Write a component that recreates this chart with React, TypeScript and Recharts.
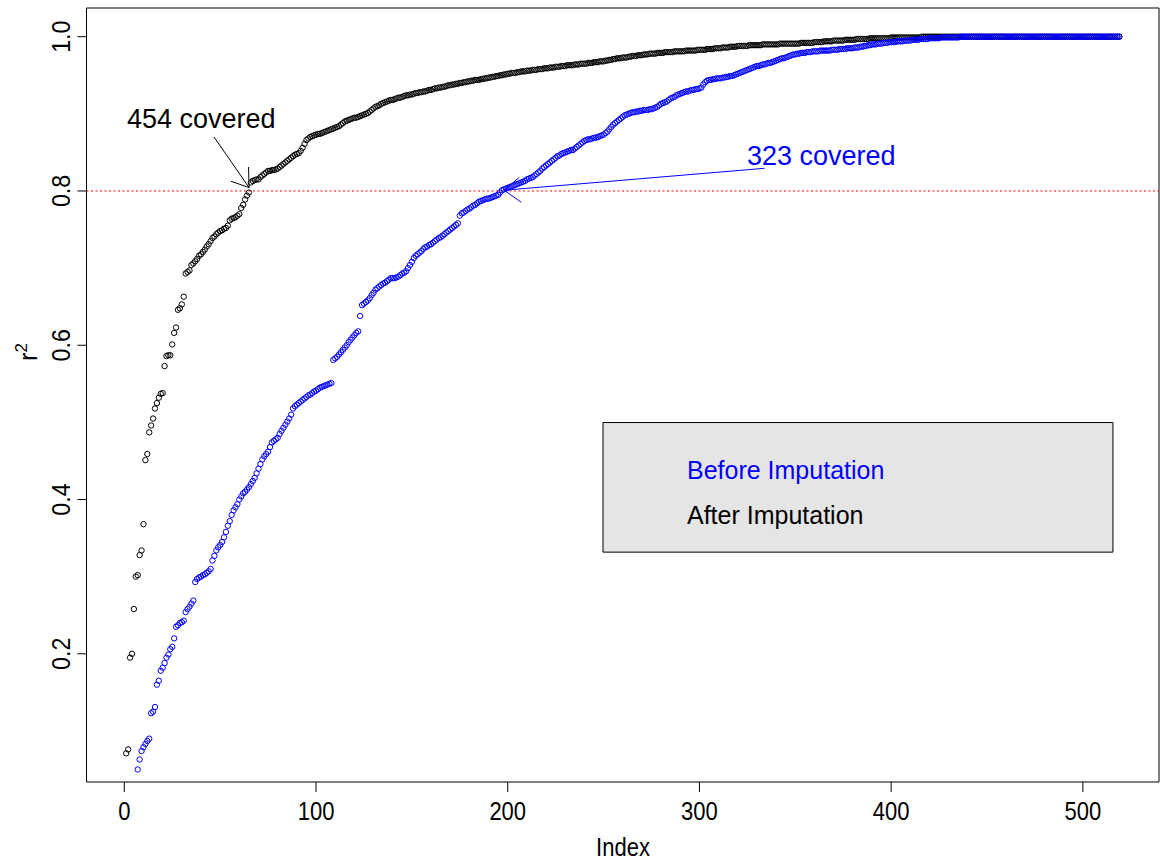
import React from 'react';
import { ComposedChart, Scatter, XAxis, YAxis, ReferenceLine, ReferenceArea } from 'recharts';

// r^2 values sorted ascending, index 1..519
const afterImputation: number[] = [
  0.071,0.076,0.195,0.200,0.258,0.300,0.302,0.328,0.334,0.368,
  0.451,0.459,0.487,0.496,0.505,0.518,0.525,0.532,0.537,0.538,
  0.573,0.586,0.587,0.587,0.601,0.616,0.623,0.646,0.648,0.653,
  0.663,0.693,0.695,0.697,0.704,0.706,0.709,0.712,0.716,0.718,
  0.721,0.724,0.728,0.731,0.735,0.739,0.741,0.744,0.746,0.748,
  0.749,0.751,0.752,0.755,0.762,0.764,0.765,0.766,0.768,0.770,
  0.778,0.782,0.789,0.794,0.798,0.811,0.813,0.814,0.815,0.815,
  0.818,0.820,0.822,0.824,0.826,0.826,0.827,0.827,0.828,0.829,
  0.831,0.833,0.835,0.837,0.839,0.841,0.843,0.845,0.847,0.848,
  0.849,0.852,0.856,0.861,0.866,0.868,0.870,0.871,0.872,0.873,
  0.874,0.874,0.875,0.876,0.877,0.878,0.879,0.880,0.881,0.882,
  0.883,0.884,0.886,0.888,0.890,0.891,0.892,0.893,0.894,0.895,
  0.895,0.896,0.897,0.898,0.899,0.900,0.901,0.903,0.905,0.907,
  0.909,0.910,0.911,0.913,0.914,0.915,0.916,0.917,0.918,0.918,
  0.919,0.920,0.921,0.921,0.922,0.923,0.924,0.924,0.925,0.925,
  0.926,0.927,0.927,0.928,0.928,0.929,0.929,0.930,0.931,0.931,
  0.932,0.933,0.933,0.934,0.934,0.935,0.935,0.936,0.937,0.937,
  0.938,0.938,0.939,0.939,0.940,0.940,0.941,0.941,0.942,0.942,
  0.943,0.943,0.944,0.944,0.944,0.945,0.945,0.946,0.946,0.947,
  0.947,0.948,0.948,0.949,0.949,0.950,0.950,0.951,0.951,0.952,
  0.952,0.953,0.953,0.953,0.954,0.954,0.955,0.955,0.955,0.956,
  0.956,0.956,0.957,0.957,0.957,0.958,0.958,0.958,0.959,0.959,
  0.959,0.960,0.960,0.960,0.961,0.961,0.961,0.962,0.962,0.962,
  0.963,0.963,0.963,0.963,0.964,0.964,0.964,0.965,0.965,0.965,
  0.965,0.966,0.966,0.966,0.967,0.967,0.967,0.968,0.968,0.968,
  0.969,0.969,0.970,0.970,0.971,0.971,0.972,0.972,0.972,0.973,
  0.973,0.973,0.974,0.974,0.975,0.975,0.975,0.976,0.976,0.976,
  0.977,0.977,0.977,0.978,0.978,0.978,0.978,0.979,0.979,0.979,
  0.979,0.980,0.980,0.980,0.980,0.980,0.981,0.981,0.981,0.981,
  0.981,0.981,0.982,0.982,0.982,0.982,0.982,0.982,0.983,0.983,
  0.983,0.983,0.983,0.984,0.984,0.984,0.984,0.985,0.985,0.985,
  0.985,0.986,0.986,0.986,0.986,0.987,0.987,0.987,0.987,0.988,
  0.988,0.988,0.988,0.988,0.988,0.989,0.989,0.989,0.989,0.989,
  0.989,0.989,0.990,0.990,0.990,0.990,0.990,0.990,0.990,0.990,
  0.990,0.991,0.991,0.991,0.991,0.991,0.991,0.991,0.991,0.991,
  0.991,0.991,0.992,0.992,0.992,0.992,0.992,0.992,0.992,0.993,
  0.993,0.993,0.993,0.993,0.994,0.994,0.994,0.994,0.994,0.995,
  0.995,0.995,0.995,0.995,0.995,0.996,0.996,0.996,0.996,0.996,
  0.996,0.997,0.997,0.997,0.997,0.997,0.997,0.997,0.998,0.998,
  0.998,0.998,0.998,0.998,0.998,0.998,0.998,0.998,0.998,0.999,
  0.999,0.999,0.999,0.999,0.999,0.999,0.999,0.999,0.999,0.999,
  0.999,0.999,0.999,0.999,0.999,1,1,1,1,1,
  1,1,1,1,1,1,1,1,1,1,
  1,1,1,1,1,1,1,1,1,1,
  1,1,1,1,1,1,1,1,1,1,
  1,1,1,1,1,1,1,1,1,1,
  1,1,1,1,1,1,1,1,1,1,
  1,1,1,1,1,1,1,1,1,1,
  1,1,1,1,1,1,1,1,1,1,
  1,1,1,1,1,1,1,1,1,1,
  1,1,1,1,1,1,1,1,1,1,
  1,1,1,1,1,1,1,1,1,
];

// indices 1..6 fall below the visible range (not readable) -> null
const beforeImputation: (number | null)[] = [
  null,null,null,null,null,null,0.050,0.063,0.074,0.079,
  0.083,0.087,0.090,0.123,0.125,0.131,0.160,0.165,0.178,0.182,
  0.188,0.195,0.199,0.206,0.209,0.220,0.235,0.237,0.240,0.241,
  0.243,0.254,0.258,0.261,0.265,0.269,0.293,0.297,0.299,0.300,
  0.302,0.303,0.305,0.307,0.310,0.321,0.327,0.334,0.338,0.341,
  0.345,0.351,0.358,0.366,0.372,0.380,0.386,0.390,0.394,0.400,
  0.404,0.408,0.410,0.413,0.416,0.420,0.424,0.428,0.434,0.440,
  0.446,0.452,0.456,0.459,0.462,0.468,0.474,0.476,0.478,0.480,
  0.485,0.489,0.493,0.497,0.501,0.505,0.510,0.518,0.521,0.523,
  0.525,0.527,0.529,0.531,0.533,0.535,0.536,0.538,0.540,0.541,
  0.543,0.545,0.546,0.547,0.548,0.549,0.550,0.551,0.581,0.583,
  0.585,0.588,0.591,0.594,0.597,0.600,0.604,0.607,0.610,0.613,
  0.616,0.618,0.638,0.652,0.654,0.656,0.658,0.661,0.665,0.668,
  0.672,0.674,0.676,0.678,0.680,0.681,0.683,0.685,0.687,0.687,
  0.687,0.688,0.689,0.691,0.693,0.694,0.696,0.700,0.704,0.708,
  0.713,0.716,0.718,0.720,0.722,0.725,0.727,0.728,0.730,0.731,
  0.733,0.735,0.737,0.739,0.740,0.742,0.744,0.746,0.748,0.750,
  0.752,0.754,0.756,0.758,0.768,0.771,0.772,0.774,0.776,0.777,
  0.779,0.781,0.782,0.784,0.786,0.787,0.788,0.789,0.790,0.790,
  0.791,0.792,0.793,0.794,0.795,0.798,0.801,0.802,0.803,0.804,
  0.805,0.806,0.807,0.808,0.809,0.810,0.811,0.812,0.813,0.815,
  0.816,0.817,0.818,0.820,0.822,0.824,0.826,0.829,0.831,0.833,
  0.835,0.837,0.839,0.841,0.843,0.845,0.846,0.848,0.849,0.850,
  0.851,0.852,0.853,0.853,0.855,0.857,0.859,0.861,0.863,0.865,
  0.866,0.867,0.867,0.868,0.869,0.869,0.870,0.871,0.872,0.873,
  0.875,0.877,0.880,0.883,0.886,0.888,0.890,0.892,0.894,0.896,
  0.898,0.899,0.900,0.901,0.902,0.902,0.903,0.903,0.904,0.904,
  0.905,0.905,0.905,0.906,0.906,0.907,0.908,0.909,0.911,0.913,
  0.914,0.915,0.916,0.918,0.920,0.921,0.922,0.924,0.925,0.926,
  0.927,0.928,0.929,0.929,0.930,0.931,0.931,0.932,0.932,0.933,
  0.934,0.938,0.941,0.943,0.944,0.944,0.945,0.945,0.946,0.946,
  0.946,0.947,0.947,0.948,0.948,0.949,0.949,0.950,0.951,0.952,
  0.953,0.954,0.955,0.956,0.957,0.958,0.959,0.960,0.961,0.962,
  0.962,0.963,0.964,0.964,0.965,0.966,0.966,0.967,0.968,0.969,
  0.970,0.971,0.972,0.972,0.973,0.974,0.975,0.976,0.977,0.977,
  0.978,0.978,0.979,0.979,0.979,0.980,0.980,0.980,0.981,0.981,
  0.981,0.981,0.982,0.982,0.982,0.982,0.982,0.982,0.983,0.983,
  0.983,0.983,0.984,0.984,0.984,0.984,0.985,0.985,0.985,0.985,
  0.986,0.986,0.986,0.987,0.987,0.988,0.988,0.989,0.989,0.990,
  0.990,0.990,0.991,0.991,0.991,0.992,0.992,0.992,0.993,0.993,
  0.993,0.993,0.994,0.994,0.994,0.994,0.995,0.995,0.995,0.995,
  0.996,0.996,0.996,0.996,0.997,0.997,0.997,0.997,0.997,0.998,
  0.998,0.998,0.998,0.998,0.998,0.999,0.999,0.999,0.999,0.999,
  0.999,0.999,0.999,0.999,0.999,1,1,1,1,1,
  1,1,1,1,1,1,1,1,1,1,
  1,1,1,1,1,1,1,1,1,1,
  1,1,1,1,1,1,1,1,1,1,
  1,1,1,1,1,1,1,1,1,1,
  1,1,1,1,1,1,1,1,1,1,
  1,1,1,1,1,1,1,1,1,1,
  1,1,1,1,1,1,1,1,1,1,
  1,1,1,1,1,1,1,1,1,
];

const xTicks = [0, 100, 200, 300, 400, 500];
const yTicks = [0.2, 0.4, 0.6, 0.8, 1.0];
const threshold = 0.8;
const legendLabels = ['Before Imputation', 'After Imputation'];
const annotations = ['454 covered', '323 covered'];

const X_DOMAIN: [number, number] = [-19.72, 539.72];
const Y_DOMAIN: [number, number] = [0.0338, 1.0372];

const FONT = '"Liberation Sans", Arial, Helvetica, sans-serif';
const BLUE = '#0000ff';
const NARROW = 0.88;

const blackData = afterImputation.map((v, k) => ({ i: k + 1, v }));
const blueData = beforeImputation
  .map((v, k) => ({ i: k + 1, v }))
  .filter((d) => d.v !== null);

const makeCircle = (color: string) => (props: any) => {
  const { cx, cy } = props;
  if (cx == null || cy == null) return <g />;
  return <circle cx={cx} cy={cy} r={2.7} fill="none" stroke={color} strokeWidth={1} />;
};

const XTick = (props: any) => {
  const { x, y, payload } = props;
  return (
    <g transform={`translate(${x}, ${y}) scale(${NARROW}, 1)`}>
      <text x={0} y={0} dy="0.71em" textAnchor="middle" fontSize={25} fontFamily={FONT} fill="#000">
        {payload.value}
      </text>
    </g>
  );
};

const YTick = (props: any) => {
  const { y, payload } = props;
  const bx = 70;
  return (
    <g transform={`translate(${bx}, ${y}) rotate(-90) scale(0.93, 1)`}>
      <text x={0} y={0} textAnchor="middle" fontSize={25} fontFamily={FONT} fill="#000">
        {Number(payload.value).toFixed(1)}
      </text>
    </g>
  );
};

export default function App() {
  return (
    <div style={{ position: 'absolute', left: 0, top: 0, width: 1160, height: 863, background: '#fff' }}>
      <ComposedChart
        width={1160}
        height={863}
        margin={{ top: 8, right: 1, bottom: 0, left: 0 }}
      >
        <XAxis
          dataKey="i"
          type="number"
          domain={X_DOMAIN}
          allowDataOverflow
          ticks={xTicks}
          height={81}
          tickSize={10}
          tickMargin={10}
          axisLine={false}
          tickLine={{ stroke: '#000' }}
          tick={<XTick />}
          interval={0}
        />
        <YAxis
          dataKey="v"
          type="number"
          domain={Y_DOMAIN}
          allowDataOverflow
          ticks={yTicks}
          width={86.5}
          tickSize={9}
          axisLine={false}
          tickLine={{ stroke: '#000' }}
          tick={<YTick />}
          interval={0}
        />
        <ReferenceArea
          x1={X_DOMAIN[0]}
          x2={X_DOMAIN[1]}
          y1={Y_DOMAIN[0]}
          y2={Y_DOMAIN[1]}
          fill="none"
          fillOpacity={0}
          stroke="#000"
          strokeWidth={1}
          ifOverflow="visible"
        />
        <Scatter
          name="After Imputation"
          data={blackData}
          dataKey="v"
          shape={makeCircle('#000')}
          isAnimationActive={false}
        />
        <Scatter
          name="Before Imputation"
          data={blueData}
          dataKey="v"
          shape={makeCircle(BLUE)}
          isAnimationActive={false}
        />
        <ReferenceLine y={threshold} stroke="#ff0000" strokeDasharray="2 2.5" strokeWidth={1} />
        {/* black arrow: 454 covered */}
        <ReferenceLine segment={[{ x: 46.8, y: 0.870 }, { x: 65.1, y: 0.8044 }]} stroke="#000" ifOverflow="visible" />
        <ReferenceLine segment={[{ x: 55.6, y: 0.8126 }, { x: 65.1, y: 0.8044 }]} stroke="#000" ifOverflow="visible" />
        <ReferenceLine segment={[{ x: 64.8, y: 0.831 }, { x: 65.1, y: 0.8044 }]} stroke="#000" ifOverflow="visible" />
        {/* blue arrow: 323 covered */}
        <ReferenceLine segment={[{ x: 334.0, y: 0.8294 }, { x: 198.2, y: 0.801 }]} stroke={BLUE} ifOverflow="visible" />
        <ReferenceLine segment={[{ x: 206.0, y: 0.8177 }, { x: 198.2, y: 0.801 }]} stroke={BLUE} ifOverflow="visible" />
        <ReferenceLine segment={[{ x: 207.0, y: 0.7854 }, { x: 198.2, y: 0.801 }]} stroke={BLUE} ifOverflow="visible" />
        {/* legend box */}
        <ReferenceArea
          x1={249.7}
          x2={515.7}
          y1={0.3318}
          y2={0.4998}
          fill="#e5e5e5"
          fillOpacity={1}
          stroke="#000"
          strokeWidth={1}
          ifOverflow="visible"
        />
      </ComposedChart>
      <svg
        width={1160}
        height={863}
        style={{ position: 'absolute', left: 0, top: 0, pointerEvents: 'none' }}
      >
        <g transform={`translate(623, 856) scale(${NARROW}, 1)`}>
          <text x={0} y={0} textAnchor="middle" fontSize={25} fontFamily={FONT} fill="#000">
            Index
          </text>
        </g>
        <text
          x={37}
          y={352}
          transform="rotate(-90, 37, 352)"
          textAnchor="middle"
          fontSize={25}
          fontFamily={FONT}
          fill="#000"
        >
          r<tspan fontSize={17} dy={-10}>2</tspan>
        </text>
        <text x={127} y={128} fontSize={27} fontFamily={FONT} fill="#000">
          {annotations[0]}
        </text>
        <text x={747} y={165} fontSize={27} fontFamily={FONT} fill={BLUE}>
          {annotations[1]}
        </text>
        <text x={687} y={479} fontSize={25} fontFamily={FONT} fill={BLUE}>
          {legendLabels[0]}
        </text>
        <text x={687} y={524} fontSize={25} fontFamily={FONT} fill="#000">
          {legendLabels[1]}
        </text>
      </svg>
    </div>
  );
}
